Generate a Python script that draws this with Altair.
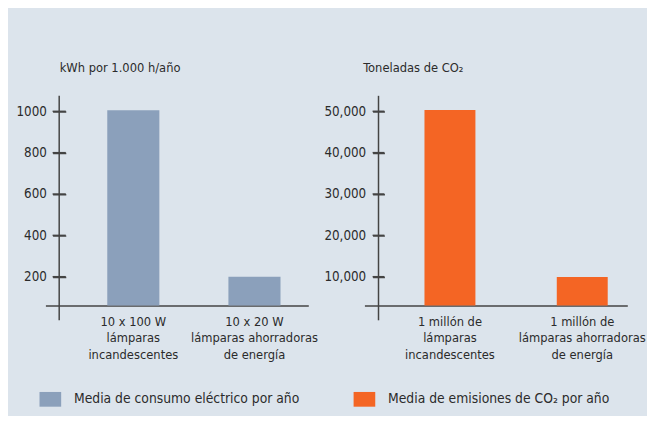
import altair as alt
import pandas as pd

FONT = "DejaVu Sans Condensed, Liberation Sans Narrow, sans-serif"

# ---- data ----
cats_kwh = ["10 x 100 W\nlámparas\nincandescentes", "10 x 20 W\nlámparas ahorradoras\nde energía"]
vals_kwh = [1005, 200]
ticks_kwh = [200, 400, 600, 800, 1000]

cats_co2 = ["1 millón de\nlámparas\nincandescentes", "1 millón de\nlámparas ahorradoras\nde energía"]
vals_co2 = [50300, 9900]
ticks_co2 = [10000, 20000, 30000, 40000, 50000]

series = ["Media de consumo eléctrico por año", "Media de emisiones de CO₂ por año"]
colors = ["#8ba0bb", "#f46524"]

title_kwh = "kWh por 1.000 h/año"
title_co2 = "Toneladas de CO₂"

W, H = 267, 213
AX = "#444444"
TXT = "#2b2b2b"

color_enc_legend = alt.Legend(
    title=None, orient="none", direction="horizontal", legendX=-6, legendY=297,
    symbolType="M-1,-0.68L1,-0.68L1,0.68L-1,0.68Z", symbolSize=484,
    symbolStrokeWidth=0, labelFontSize=14, labelOffset=13, columnPadding=54,
    labelColor=TXT, labelFont=FONT, labelLimit=0,
)


def panel(cats, vals, ticks, ttl, series_name, domain, fmt, ax_x, half,
          title_x, xscale):
    df = pd.DataFrame({"cat": cats, "v": vals, "s": [series_name] * len(cats)})
    yscale = alt.Scale(domain=domain, zero=False, nice=False)
    yaxis = alt.Axis(offset=-ax_x, ticks=False, domain=False,
                     grid=True, gridColor=AX, gridWidth=1.5, gridOpacity=1,
                     gridDash=[0, ax_x - half, 2 * half, 2000],
                     values=ticks, format=fmt, labelPadding=13, labelFontSize=13.5,
                     labelColor=TXT, labelFont=FONT,
                     title=ttl, titleAngle=0, titleAlign="left",
                     titleBaseline="alphabetic", titleX=title_x, titleY=-25,
                     titleFontSize=13, titleFontWeight="normal",
                     titleColor=TXT, titleFont=FONT)
    bars = alt.Chart(df).mark_bar(clip=True).encode(
        x=alt.X("cat:N", sort=None, scale=xscale,
                axis=alt.Axis(title=None, ticks=False, labelAngle=0, labelPadding=10,
                              labelExpr="split(datum.label, '\\n')", labelLineHeight=17,
                              labelFontSize=13, labelColor=TXT, labelFont=FONT,
                              domainColor=AX, domainWidth=1.5, grid=False)),
        y=alt.Y("v:Q", scale=yscale, axis=yaxis),
        color=alt.Color("s:N", scale=alt.Scale(domain=series, range=colors),
                        legend=color_enc_legend),
    )
    tdf = pd.DataFrame({"v": ticks})
    tick_rules = alt.Chart(tdf).mark_rule(color=AX, strokeWidth=1.5).encode(
        y=alt.Y("v:Q", scale=yscale, axis=yaxis),
        x=alt.value(ax_x - half), x2=alt.value(ax_x + half),
    )
    axis_line = alt.Chart(pd.DataFrame({"a": [0]})).mark_rule(color=AX, strokeWidth=1.5).encode(
        x=alt.value(ax_x), y=alt.value(0), y2=alt.value(H + 15),
    )
    return alt.layer(bars, tick_rules, axis_line).properties(width=W, height=H)


left = panel(cats_kwh, vals_kwh, ticks_kwh, title_kwh, series[0], [60.5, 1075], "d",
             14, 6.7, 0,
             alt.Scale(paddingInner=0.57, paddingOuter=0.37, align=0.69))
right = panel(cats_co2, vals_co2, ticks_co2, title_co2, series[1], [3024, 53738], ",d",
              14.3, 6, -16,
              alt.Scale(paddingInner=0.615, paddingOuter=0.301, align=0.754))

chart = alt.HConcatChart(hconcat=[left, right], spacing=57, bounds="flush").resolve_scale(
    x="independent", y="independent", color="shared"
).properties(
    background="#dce4ec",
    padding={"left": 8, "top": 51, "right": 1, "bottom": 6},
).configure(font=FONT).configure_view(stroke="transparent", strokeWidth=0)

chart.save("out.html", embed_options={"renderer": "svg", "actions": False})
